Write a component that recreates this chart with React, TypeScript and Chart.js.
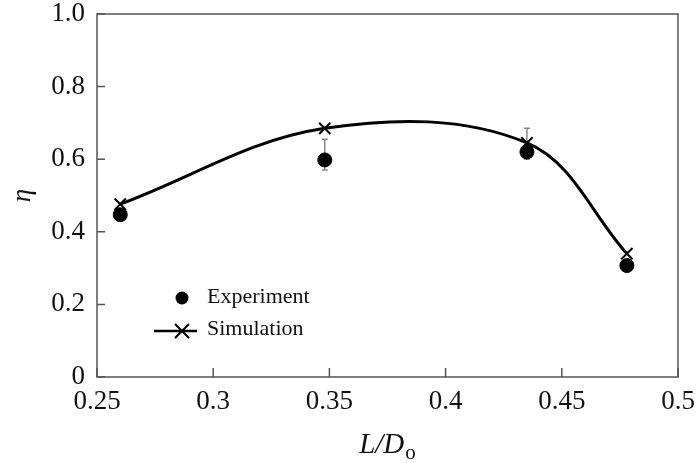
import React, { useEffect, useRef } from "react";
import { Chart, registerables } from "chart.js";

Chart.register(...registerables);

const xValues = [0.26, 0.348, 0.435, 0.478];
const experiment = [0.447, 0.598, 0.62, 0.307];
const simulation = [0.476, 0.685, 0.645, 0.34];
const errHigh = [null, 0.655, 0.685, null];
const errLow = [null, 0.57, 0.6, null];
const legendLabels = ["Experiment", "Simulation"];
const xTitle = { main: "L/D", sub: "o" };
const yTitle = "η";

const FONT = "'Liberation Serif', 'DejaVu Serif', serif";

const decorPlugin = {
  id: "decor",
  beforeDatasetsDraw(chart: any) {
    const { ctx, scales } = chart;
    const x = scales.x, y = scales.y;
    ctx.save();
    ctx.strokeStyle = "#8a8a8a";
    ctx.lineWidth = 1.5;
    xValues.forEach((xv, i) => {
      const hi = errHigh[i], lo = errLow[i];
      if (hi == null || lo == null) return;
      const px = x.getPixelForValue(xv);
      const py1 = y.getPixelForValue(hi);
      const py2 = y.getPixelForValue(lo);
      ctx.beginPath();
      ctx.moveTo(px, py1);
      ctx.lineTo(px, py2);
      ctx.moveTo(px - 3, py1);
      ctx.lineTo(px + 3, py1);
      ctx.moveTo(px - 3, py2);
      ctx.lineTo(px + 3, py2);
      ctx.stroke();
    });
    ctx.restore();
  },
  afterDraw(chart: any) {
    const { ctx, chartArea, scales } = chart;
    const { left, right, top, bottom } = chartArea;
    ctx.save();
    ctx.strokeStyle = "#555";
    ctx.lineWidth = 1.5;
    ctx.strokeRect(left, top, right - left, bottom - top);
    ctx.beginPath();
    scales.y.ticks.forEach((t: any) => {
      const py = scales.y.getPixelForValue(t.value);
      ctx.moveTo(left, py);
      ctx.lineTo(left + 8, py);
    });
    scales.x.ticks.forEach((t: any) => {
      const px = scales.x.getPixelForValue(t.value);
      ctx.moveTo(px, bottom);
      ctx.lineTo(px, bottom - 9);
    });
    ctx.stroke();

    // x title with subscript
    ctx.fillStyle = "#111";
    ctx.textBaseline = "alphabetic";
    ctx.font = `italic 29px ${FONT}`;
    const wMain = ctx.measureText(xTitle.main).width;
    ctx.font = `21px ${FONT}`;
    const wSub = ctx.measureText(xTitle.sub).width;
    const cx = (left + right) / 2;
    const startX = cx - (wMain + wSub + 1) / 2;
    const base = 453;
    ctx.font = `italic 29px ${FONT}`;
    ctx.textAlign = "left";
    ctx.fillText(xTitle.main, startX, base);
    ctx.font = `21px ${FONT}`;
    ctx.fillText(xTitle.sub, startX + wMain + 1, base + 6);

    // legend
    ctx.font = `22px ${FONT}`;
    ctx.textBaseline = "middle";
    ctx.fillStyle = "#000";
    ctx.beginPath();
    ctx.arc(182, 298, 6.5, 0, Math.PI * 2);
    ctx.fill();
    ctx.fillStyle = "#111";
    ctx.fillText(legendLabels[0], 207, 297);
    ctx.strokeStyle = "#000";
    ctx.lineWidth = 2.5;
    ctx.beginPath();
    ctx.moveTo(154, 331);
    ctx.lineTo(197, 331);
    ctx.stroke();
    ctx.lineWidth = 2;
    ctx.beginPath();
    ctx.moveTo(175, 324);
    ctx.lineTo(189, 338);
    ctx.moveTo(189, 324);
    ctx.lineTo(175, 338);
    ctx.stroke();
    ctx.fillStyle = "#111";
    ctx.fillText(legendLabels[1], 207, 329);
    ctx.restore();
  },
};

export default function App() {
  const ref = useRef<HTMLCanvasElement>(null);
  useEffect(() => {
    document.body.style.margin = "0";
    document.body.style.overflow = "hidden";
    const chart = new Chart(ref.current!, {
      type: "line",
      data: {
        datasets: [
          {
            label: legendLabels[0],
            data: xValues.map((x, i) => ({ x, y: experiment[i] })),
            showLine: false,
            pointStyle: "circle",
            pointRadius: 7,
            pointBackgroundColor: "#000",
            pointBorderColor: "#000",
            borderColor: "#000",
            backgroundColor: "#000",
          },
          {
            label: legendLabels[1],
            data: xValues.map((x, i) => ({ x, y: simulation[i] })),
            showLine: true,
            tension: 0.36,
            borderColor: "#000",
            borderWidth: 3,
            pointStyle: "crossRot",
            pointRadius: 8,
            pointBorderWidth: 2,
            pointBorderColor: "#000",
            pointBackgroundColor: "#000",
            fill: false,
          },
        ],
      },
      options: {
        animation: false,
        responsive: false,
        maintainAspectRatio: false,
        layout: { autoPadding: false, padding: { top: 14, right: 21, left: 0, bottom: 0 } },
        plugins: { legend: { display: false }, tooltip: { enabled: false } },
        scales: {
          x: {
            type: "linear",
            min: 0.25,
            max: 0.5,
            afterFit: (s: any) => {
              s.height = 86;
              s.paddingLeft = 0;
              s.paddingRight = 0;
            },
            ticks: {
              stepSize: 0.05,
              padding: 9,
              color: "#111",
              font: { family: FONT, size: 27 },
              maxRotation: 0,
              callback: (v: any) => String(+Number(v).toFixed(2)),
            },
            grid: { display: false, drawTicks: false },
            border: { display: false },
          },
          y: {
            type: "linear",
            min: 0,
            max: 1,
            afterFit: (s: any) => {
              s.width = 97;
              s.paddingTop = 0;
              s.paddingBottom = 0;
            },
            ticks: {
              stepSize: 0.2,
              padding: 12,
              color: "#111",
              font: { family: FONT, size: 27 },
              callback: (v: any) => (Number(v) === 0 ? "0" : Number(v).toFixed(1)),
            },
            title: {
              display: true,
              text: yTitle,
              color: "#111",
              font: { family: FONT, size: 27, style: "italic" },
              padding: { top: 7, bottom: 0 },
            },
            grid: { display: false, drawTicks: false },
            border: { display: false },
          },
        },
      },
      plugins: [decorPlugin],
    });
    return () => chart.destroy();
  }, []);
  return (
    <div style={{ width: 699, height: 463, background: "#fff" }}>
      <canvas ref={ref} width={699} height={463} style={{ display: "block" }} />
    </div>
  );
}
